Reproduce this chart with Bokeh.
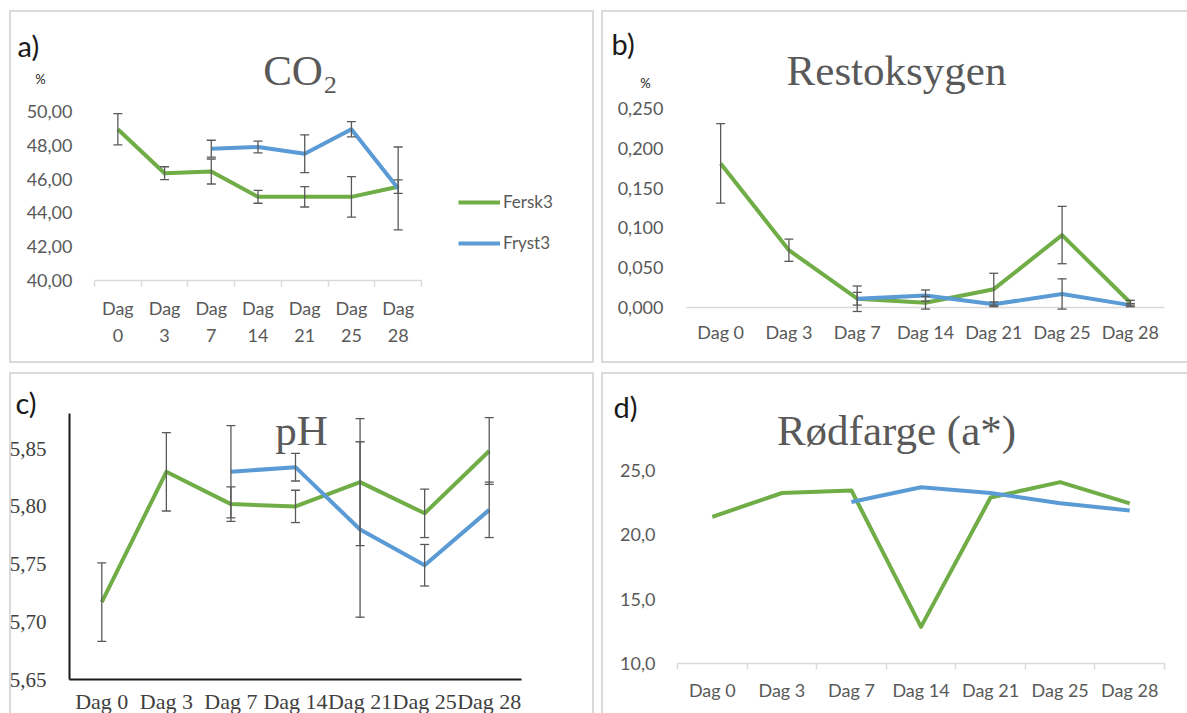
import math
from bokeh.plotting import figure
from bokeh.models import (ColumnDataSource, Whisker, TeeHead, Label, Legend, LegendItem,
                          FixedTicker, CustomJSTickFormatter, Range1d, LinearAxis)
from bokeh.layouts import row, column
from bokeh.embed import file_html
from bokeh.resources import INLINE

NAN = float("nan")

# ---------------- data ----------------
days = ["Dag 0", "Dag 3", "Dag 7", "Dag 14", "Dag 21", "Dag 25", "Dag 28"]
series_names = ["Fersk3", "Fryst3"]

co2_fersk = [48.95, 46.35, 46.45, 44.95, 44.95, 44.95, 45.55]
co2_fersk_err = [0.92, 0.38, 0.74, 0.38, 0.60, 1.20, 0.40]
co2_fryst = [NAN, NAN, 47.80, 47.90, 47.50, 48.95, 45.45]
co2_fryst_err = [NAN, NAN, 0.50, 0.35, 1.12, 0.45, 2.45]
co2_ticks = [40, 42, 44, 46, 48, 50]

o2_fersk = [0.181, 0.072, 0.011, 0.006, 0.023, 0.091, 0.006]
o2_fersk_err = [0.050, 0.014, 0.016, 0.008, 0.020, 0.036, 0.003]
o2_fryst = [NAN, NAN, 0.011, 0.015, 0.004, 0.017, 0.003]
o2_fryst_err = [NAN, NAN, 0.008, 0.007, 0.003, 0.019, 0.002]
o2_ticks = [0.0, 0.05, 0.10, 0.15, 0.20, 0.25]

ph_fersk = [5.717, 5.830, 5.802, 5.800, 5.821, 5.794, 5.848]
ph_fersk_err = [0.034, 0.034, 0.015, 0.014, 0.055, 0.021, 0.029]
ph_fryst = [NAN, NAN, 5.830, 5.834, 5.780, 5.749, 5.797]
ph_fryst_err = [NAN, NAN, 0.040, 0.012, 0.076, 0.018, 0.024]
ph_ticks = [5.65, 5.70, 5.75, 5.80, 5.85]

a_fersk = [21.4, 23.25, 23.45, 12.85, 22.9, 24.1, 22.45]
a_fryst = [NAN, NAN, 22.55, 23.7, 23.25, 22.45, 21.9]
a_ticks = [10, 15, 20, 25]

# ---------------- style ----------------
GREEN = "#70ad47"
BLUE = "#5b9bd5"
ERR = "#595959"
TXT = "#595959"
BC = "#dadada"

N = len(days)
xs = [i + 0.5 for i in range(N)]
bounds = list(range(N + 1))


def border_style(top=True, left=True, right=True, bottom=True):
    parts = []
    if top:
        parts.append(f"inset 0 2px 0 0 {BC}")
    if bottom:
        parts.append(f"inset 0 -2px 0 0 {BC}")
    if left:
        parts.append(f"inset 2px 0 0 0 {BC}")
    if right:
        parts.append(f"inset -2px 0 0 0 {BC}")
    return {"box-shadow": ", ".join(parts)}


def make_panel(w, h, L, R, T, B, y0, y1, yticks, ydec, labels, sides, serif=False,
               excel_ticks=True, xstand=10, ystand=16):
    # frame covers the whole canvas; the data box maps to pixels L..R, T..B
    sx = (R - L) / N
    sy = (B - T) / (y1 - y0)
    xr = Range1d(-L / sx, N + (w - R) / sx)
    yr = Range1d(y0 - (h - B) / sy, y1 + T / sy)
    p = figure(width=w, height=h, x_range=xr, y_range=yr,
               output_backend="svg", toolbar_location=None,
               min_border=0, min_border_left=0, min_border_right=0,
               min_border_top=0, min_border_bottom=0,
               x_axis_location=None, y_axis_location=None,
               styles=border_style(**sides))
    p.outline_line_color = None
    p.background_fill_alpha = 0
    p.border_fill_alpha = 0
    p.xgrid.visible = False
    p.ygrid.visible = False
    font = "Liberation Serif" if serif else "Lato"
    col = "#404040" if serif else TXT

    yax = LinearAxis(fixed_location=0, bounds=(y0, y1),
                     ticker=FixedTicker(ticks=yticks),
                     formatter=CustomJSTickFormatter(args=dict(n=ydec),
                                                     code="return tick.toFixed(n).replace('.', ',');"))
    yax.major_tick_line_color = None
    yax.minor_tick_line_color = None
    yax.major_label_text_font = font
    yax.major_label_text_font_size = "21px" if serif else "18px"
    yax.major_label_text_color = col
    yax.major_label_standoff = ystand

    xax = LinearAxis(fixed_location=y0, bounds=(0, N),
                     ticker=FixedTicker(ticks=xs, minor_ticks=bounds),
                     formatter=CustomJSTickFormatter(args=dict(labels=labels),
                                                     code="return labels[Math.floor(tick)];"))
    xax.major_tick_line_color = None
    xax.major_label_text_font = font
    xax.major_label_text_font_size = "22px" if serif else "18px"
    xax.major_label_text_color = col
    xax.major_label_standoff = xstand
    if serif:
        for ax in (xax, yax):
            ax.axis_line_color = "#1a1a1a"
            ax.axis_line_width = 2
        xax.minor_tick_line_color = None
    else:
        yax.axis_line_color = None
        xax.axis_line_color = "#d9d9d9"
        xax.axis_line_width = 1.5
        if excel_ticks:
            xax.minor_tick_line_color = "#d9d9d9"
            xax.minor_tick_line_width = 1.5
            xax.minor_tick_in = 0
            xax.minor_tick_out = 6
        else:
            xax.minor_tick_line_color = None
    p.add_layout(yax, "left")
    p.add_layout(xax, "below")
    return p


def add_text(p, text, cx, cy, size, color, font="Lato", align="left", baseline="middle"):
    p.add_layout(Label(x=cx, y=p.height - cy, x_units="screen", y_units="screen", text=text,
                       text_font=font, text_font_size=size, text_color=color,
                       text_align=align, text_baseline=baseline))


def add_series(p, vals, errs, color):
    src = ColumnDataSource(dict(x=[x for x, v in zip(xs, vals) if not math.isnan(v)],
                                y=[v for v in vals if not math.isnan(v)]))
    r = p.line("x", "y", source=src, line_color=color, line_width=4, line_join="round")
    if errs is not None:
        rows = [(x, v, e) for x, v, e in zip(xs, vals, errs) if not math.isnan(v)]
        esrc = ColumnDataSource(dict(x=[t[0] for t in rows],
                                     upper=[t[1] + t[2] for t in rows],
                                     lower=[t[1] - t[2] for t in rows]))
        wk = Whisker(source=esrc, base="x", upper="upper", lower="lower",
                     line_color=ERR, line_width=1.3, level="annotation",
                     upper_head=TeeHead(size=9, line_color=ERR, line_width=1.3),
                     lower_head=TeeHead(size=9, line_color=ERR, line_width=1.3))
        p.add_layout(wk)
    return r


# ---------------- panel a: CO2 ----------------
pa = make_panel(585, 353, 85, 412, 101, 270, 40, 50, co2_ticks, 2,
                [d.replace(" ", "\n") for d in days],
                dict(top=True, left=True, right=True, bottom=True), xstand=10, ystand=16)
pa.below[0].major_label_text_line_height = 1.25
ra1 = add_series(pa, co2_fersk, co2_fersk_err, GREEN)
ra2 = add_series(pa, co2_fryst, co2_fryst_err, BLUE)
add_text(pa, "a)", 8, 35, "29px", "#1a1a1a")
add_text(pa, "%", 31, 68, "13px", "#1a1a1a", align="center")
add_text(pa, "CO\u2082", 291, 60, "43px", TXT, font="Liberation Serif",
         align="center", baseline="alphabetic")
leg = Legend(items=[LegendItem(label=series_names[0], renderers=[ra1]),
                    LegendItem(label=series_names[1], renderers=[ra2])],
             location=(449, 110), glyph_width=42, glyph_height=20, spacing=20, padding=0,
             margin=0, label_standoff=3, border_line_color=None, background_fill_alpha=0,
             label_text_font="Lato", label_text_font_size="17px", label_text_color=TXT)
pa.add_layout(leg)

# ---------------- panel b: Restoksygen ----------------
pb = make_panel(586, 353, 85, 563, 98, 297, 0, 0.25, o2_ticks, 3, days,
                dict(top=True, left=True, right=False, bottom=True),
                excel_ticks=False, xstand=7, ystand=17)
add_series(pb, o2_fersk, o2_fersk_err, GREEN)
add_series(pb, o2_fryst, o2_fryst_err, BLUE)
add_text(pb, "b)", 10, 33, "29px", "#1a1a1a")
add_text(pb, "%", 44, 72, "13px", "#1a1a1a", align="center")
add_text(pb, "Restoksygen", 295, 60, "43px", TXT, font="Liberation Serif",
         align="center", baseline="alphabetic")

# ---------------- panel c: pH ----------------
pc = make_panel(585, 341, 60, 512, 41, 307, 5.65, 5.8805, ph_ticks, 2, days,
                dict(top=True, left=True, right=True, bottom=False),
                serif=True, xstand=3, ystand=17)
add_series(pc, ph_fersk, ph_fersk_err, GREEN)
add_series(pc, ph_fryst, ph_fryst_err, BLUE)
add_text(pc, "c)", 6, 30, "29px", "#1a1a1a")
add_text(pc, "pH", 292, 58, "43px", TXT, font="Liberation Serif",
         align="center", baseline="alphabetic")

# ---------------- panel d: Rødfarge ----------------
pd_ = make_panel(586, 341, 76, 563, 98, 291, 10, 25, a_ticks, 1, days,
                 dict(top=True, left=True, right=False, bottom=False),
                 xstand=9, ystand=16)
add_series(pd_, a_fersk, None, GREEN)
add_series(pd_, a_fryst, None, BLUE)
add_text(pd_, "d)", 12, 34, "29px", "#1a1a1a")
add_text(pd_, "R\u00f8dfarge (a*)", 295, 58, "43px", TXT,
         font="Liberation Serif", align="center", baseline="alphabetic")

layout = column(row(pa, pb, spacing=7), row(pc, pd_, spacing=7), spacing=9,
                styles={"margin-left": "9px", "margin-top": "10px"})

open("out.html", "w").write(file_html(layout, INLINE))
